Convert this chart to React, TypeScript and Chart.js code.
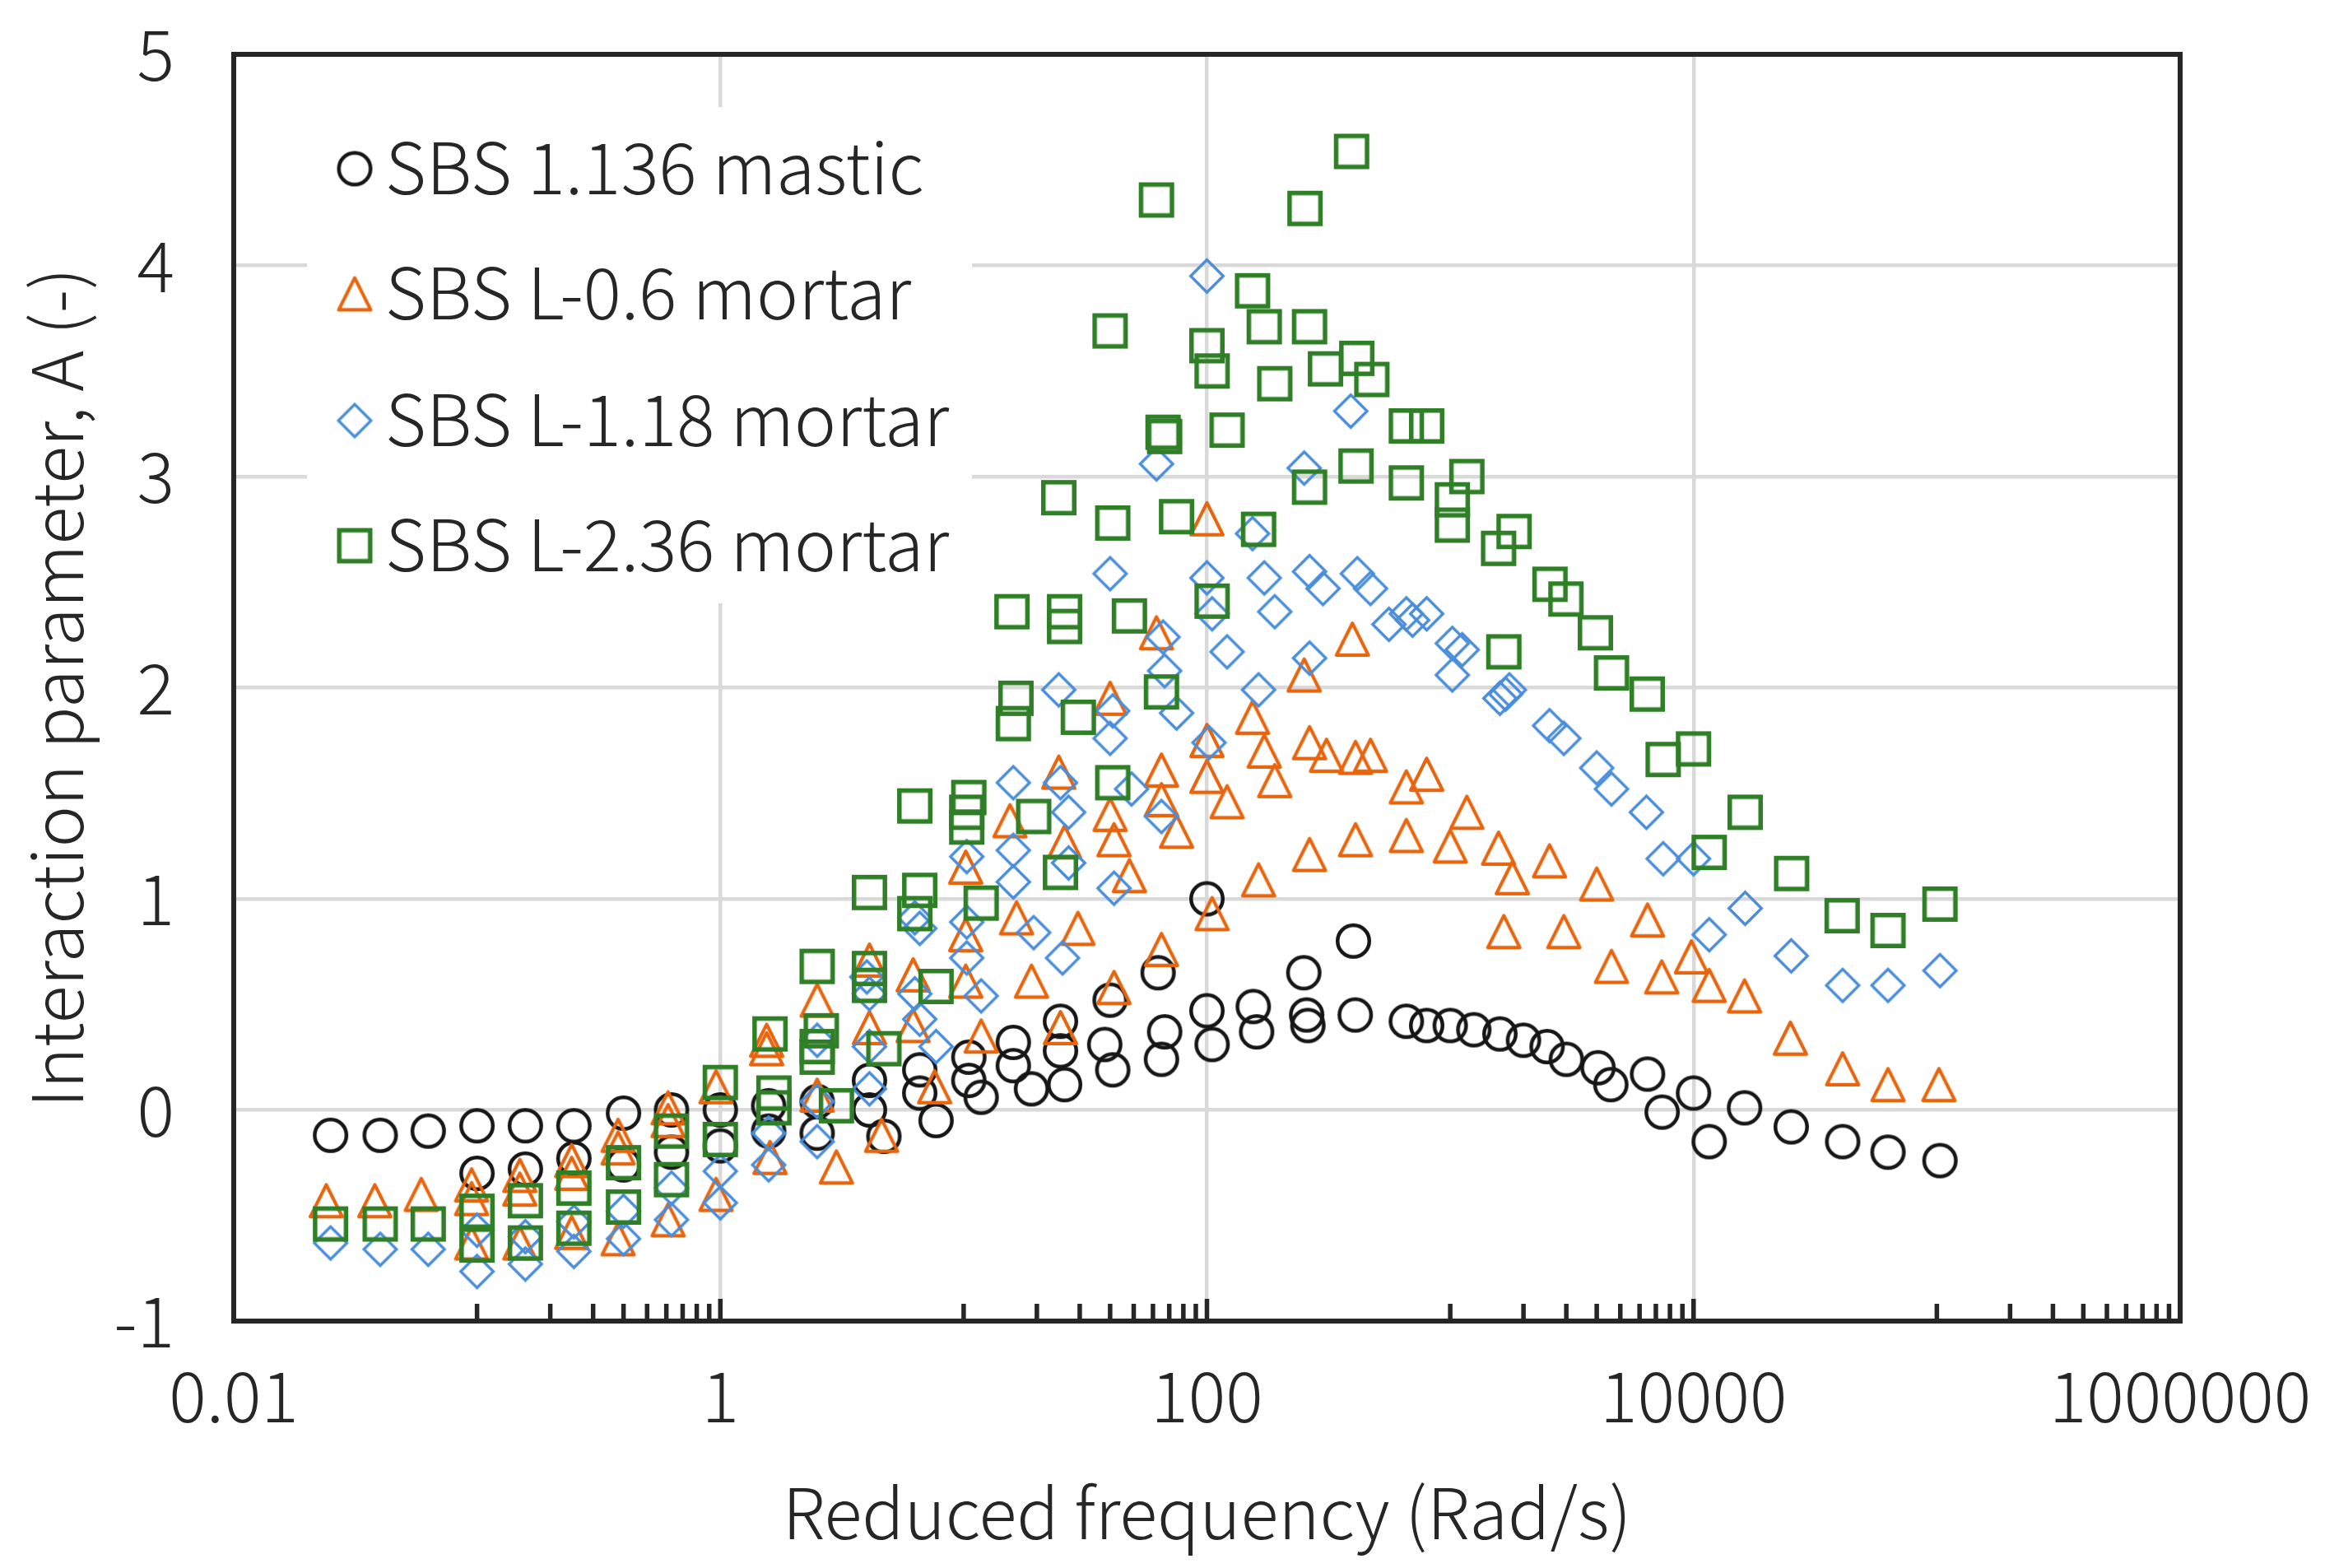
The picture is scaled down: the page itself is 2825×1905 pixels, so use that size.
import React, { useEffect, useRef } from 'react';
import { Chart, registerables } from 'chart.js';

Chart.register(...registerables);

// ---------- data ----------
const masticFreq = [
  0.025, 0.04, 0.063, 0.1, 0.158, 0.25, 0.4, 0.63, 1.0,
  0.1, 0.158, 0.25, 0.4, 0.63, 1.0, 1.58, 2.5, 4.7, 7.7, 11.8, 19, 26, 41, 65, 105, 160, 260,
  1.58, 2.5, 4.1, 6.6, 10.5, 16, 25, 38, 67, 100, 155, 257, 407, 660, 1000, 1600, 2500, 4050, 6470,
  10000, 16200, 25200, 41000, 63000, 103000,
  4.1, 6.6, 10.5, 16, 25, 40, 63, 100, 250, 400,
  800, 1250, 2000, 3000, 4570, 7430, 11600,
];
const masticA = [
  -0.12, -0.12, -0.10, -0.075, -0.075, -0.075, -0.015, 0.0, 0.0,
  -0.30, -0.28, -0.23, -0.26, -0.20, -0.17, -0.10, -0.11, -0.125, -0.05, 0.06, 0.10, 0.12, 0.19, 0.24, 0.31, 0.37, 0.40,
  0.02, 0.04, 0.0, 0.08, 0.14, 0.21, 0.28, 0.31, 0.37, 0.47, 0.49, 0.45, 0.45, 0.42, 0.40, 0.36, 0.30, 0.20, 0.17,
  0.08, 0.01, -0.08, -0.15, -0.20, -0.24,
  0.14, 0.19, 0.25, 0.32, 0.42, 0.52, 0.65, 1.0, 0.65, 0.80,
  0.40, 0.38, 0.33, 0.24, 0.12, -0.01, -0.15,
];

const mortar06Freq = [
  0.024, 0.038, 0.059, 0.095, 0.095, 0.095, 0.15, 0.15, 0.15, 0.245, 0.245, 0.245,
  0.38, 0.38, 0.38, 0.61, 0.61, 0.61, 0.96, 0.96, 1.55, 1.55, 1.6, 2.5, 2.5, 3.0,
  4.1, 4.1, 4.6, 6.2, 6.2, 7.6, 10.2, 10.2, 10.2, 11.8, 15.5, 16.5, 19, 24.6, 26, 25, 29.5,
  40, 40, 41.5, 41.5, 48, 62, 65, 65, 65, 75, 100, 100, 100, 105, 121, 154, 172, 190, 163,
  251, 264, 264, 310, 396, 408, 470, 408, 660, 660, 800, 1000, 1170, 1580, 1660, 1800,
  2560, 2930, 4000, 4600, 6470, 7400, 9800, 11600, 16200, 25000, 41000, 63000, 102000,
];
const mortar06A = [
  -0.43, -0.43, -0.40, -0.355, -0.42, -0.63, -0.31, -0.375, -0.63, -0.24, -0.30, -0.58,
  -0.12, -0.18, -0.61, 0.01, -0.05, -0.52, 0.11, -0.40, 0.33, 0.29, -0.225, 0.52, 0.07, -0.27,
  0.71, 0.39, -0.12, 0.64, 0.40, 0.11, 1.15, 0.83, 0.61, 0.35, 1.37, 0.91, 0.61, 1.60, 1.27, 0.39, 0.86,
  1.95, 1.40, 1.28, 0.58, 1.11, 2.26, 1.61, 1.47, 0.76, 1.32, 2.80, 1.75, 1.58, 0.93, 1.46, 1.86, 1.70, 1.56, 1.09,
  2.06, 1.74, 1.21, 1.68, 2.23, 1.67, 1.68, 1.28, 1.53, 1.30, 1.59, 1.25, 1.41, 1.24, 0.845, 1.10,
  1.18, 0.845, 1.07, 0.68, 0.90, 0.63, 0.725, 0.59, 0.54, 0.34, 0.195, 0.12, 0.12,
];

const mortar118Freq = [
  0.025, 0.04, 0.063, 0.1, 0.1, 0.158, 0.158, 0.25, 0.25, 0.4, 0.4, 0.63, 0.63, 1.0, 1.0,
  1.58, 1.58, 2.5, 2.5, 2.5, 4.1, 4.1, 4.1, 4, 6.6, 6.6, 6.3, 7.7, 6.3, 10.3, 10.3, 10.3, 11.8, 16, 16, 16, 19.4,
  24.6, 25, 25.5, 27, 27, 40, 40, 41, 41.5, 49, 62, 65, 66, 67, 75, 100, 100, 102, 105, 121,
  154, 163, 172, 190, 251, 264, 264, 300, 390, 415, 470, 560, 660, 700, 800, 1020, 1120, 1020,
  1600, 1690, 1750, 2560, 2930, 4000, 4600, 6400, 7500, 10000, 11600, 16300, 25200, 41000, 63000, 103000,
];
const mortar118A = [
  -0.63, -0.66, -0.66, -0.765, -0.57, -0.73, -0.60, -0.67, -0.53, -0.61, -0.48, -0.52, -0.37, -0.44, -0.29,
  -0.26, -0.11, -0.15, 0.04, 0.33, 0.30, 0.10, 0.55, 0.63, 0.43, 0.86, 0.55, 0.30, 0.91, 1.20, 0.89, 0.72, 0.54, 1.55, 1.23, 1.08, 0.84,
  1.99, 1.55, 0.72, 1.41, 1.17, 1.76, 2.54, 1.89, 1.05, 1.52, 3.06, 1.39, 2.24, 2.08, 1.88, 3.95, 2.52, 1.74, 2.35, 2.17,
  2.73, 1.99, 2.52, 2.36, 3.04, 2.55, 2.14, 2.47, 3.31, 2.54, 2.47, 2.30, 2.35, 2.32, 2.35, 2.21, 2.18, 2.06,
  1.95, 1.97, 1.99, 1.82, 1.76, 1.62, 1.52, 1.41, 1.19, 1.19, 0.83, 0.955, 0.73, 0.59, 0.59, 0.66,
];

const mortar236Freq = [
  0.025, 0.04, 0.063, 0.1, 0.1, 0.158, 0.158, 0.25, 0.25, 0.4, 0.4, 0.63, 0.63, 1.0, 1.0,
  1.6, 1.66, 1.66, 2.5, 2.6, 2.5, 2.5, 3.0, 4.1, 4.1, 4.1, 4.7, 6.3, 6.6, 6.3, 7.7, 10.5, 10.3, 10.3, 11.8,
  16.4, 16, 15.8, 19.4, 24.6, 25, 26, 26, 29.6, 40, 41, 41, 48, 62, 65, 66, 67, 75,
  100, 105, 105, 121, 154, 163, 172, 190, 253, 264, 264, 307, 393, 410, 413, 476, 660, 660, 800,
  1020, 1020, 1170, 1580, 1660, 1830, 2570, 2990, 3950, 4600, 6450, 7500, 10000, 11600, 16300,
  25300, 40800, 63000, 103000,
];
const mortar236A = [
  -0.54, -0.54, -0.54, -0.48, -0.64, -0.43, -0.63, -0.37, -0.56, -0.25, -0.46, -0.10, -0.33, 0.13, -0.14,
  0.36, 0.08, 0.01, 0.68, 0.375, 0.30, 0.25, 0.02, 1.03, 0.67, 0.59, 0.29, 1.44, 1.04, 0.93, 0.585, 1.48, 1.41, 1.34, 0.98,
  1.95, 1.83, 2.36, 1.39, 2.90, 1.125, 2.36, 2.29, 1.86, 3.69, 2.78, 1.55, 2.34, 4.31, 1.98, 3.21, 3.19, 2.81,
  3.62, 3.50, 2.41, 3.22, 3.88, 2.75, 3.71, 3.44, 4.27, 3.71, 2.95, 3.51, 4.54, 3.05, 3.56, 3.46, 3.24, 2.97, 3.24,
  2.89, 2.77, 3.0, 2.66, 2.17, 2.74, 2.49, 2.42, 2.26, 2.07, 1.97, 1.66, 1.71, 1.22, 1.41,
  1.12, 0.92, 0.85, 0.975,
];

const seriesLabels = ['SBS 1.136 mastic', 'SBS L-0.6 mortar', 'SBS L-1.18 mortar', 'SBS L-2.36 mortar'];
const xMajorTicks = [0.01, 1, 100, 10000, 1000000];
const xMinorDecades = [0.1, 10, 1000, 100000];
const yMin = -1;
const yMax = 5;
const xTitle = 'Reduced frequency (Rad/s)';
const yTitle = 'Interaction parameter, A (-)';

// ---------- styles ----------
const W = 2825;
const H = 1905;
const FONT_FAMILY = '"Noto Sans CJK SC", "Noto Sans", sans-serif';
const FONT_WEIGHT = 300;
const FONT_SIZE = 85;
const LEGEND_FONT_SIZE = 86;
const TEXT_COLOR = '#262626';
const GRID_COLOR = '#d9d9d9';
const AXIS_COLOR = '#262626';
const COLORS = ['#161616', '#e8650e', '#4a8edb', '#2f7f27'];
const SHAPES = ['circle', 'triangle', 'diamond', 'square'];
const LINE_W = [4.5, 4.2, 3.4, 5.5];

function makeMarker(shape: string, color: string, lw: number): HTMLCanvasElement {
  const S = 43;
  const pad = 3;
  const c = document.createElement('canvas');
  c.width = S + pad * 2;
  c.height = S + pad * 2;
  const g = c.getContext('2d')!;
  g.strokeStyle = color;
  g.lineWidth = lw;
  g.lineJoin = shape === 'triangle' ? 'round' : 'miter';
  const cx = c.width / 2;
  const cy = c.height / 2;
  const h = S / 2 - lw / 2;
  g.beginPath();
  if (shape === 'circle') {
    g.arc(cx, cy, h, 0, Math.PI * 2);
  } else if (shape === 'square') {
    g.rect(cx - h, cy - h, 2 * h, 2 * h);
  } else if (shape === 'diamond') {
    g.moveTo(cx, cy - h);
    g.lineTo(cx + h, cy);
    g.lineTo(cx, cy + h);
    g.lineTo(cx - h, cy);
    g.closePath();
  } else {
    g.moveTo(cx, cy - h);
    g.lineTo(cx + h, cy + h);
    g.lineTo(cx - h, cy + h);
    g.closePath();
  }
  g.stroke();
  return c;
}

export default function App() {
  const ref = useRef<HTMLCanvasElement>(null);

  useEffect(() => {
    document.body.style.margin = '0';
    document.body.style.overflow = 'hidden';
    const canvas = ref.current;
    if (!canvas) return;

    const markers = SHAPES.map((s, i) => makeMarker(s, COLORS[i], LINE_W[i]));
    const freqs = [masticFreq, mortar06Freq, mortar118Freq, mortar236Freq];
    const vals = [masticA, mortar06A, mortar118A, mortar236A];

    const datasets = seriesLabels.map((label, i) => ({
      label,
      data: freqs[i].map((f, j) => ({ x: f, y: vals[i][j] })),
      pointStyle: markers[i] as any,
      pointRadius: 20,
      showLine: false,
      order: 4 - i,
    }));

    const minorTicks: number[] = [];
    xMinorDecades.forEach((d) => {
      for (let n = 1; n <= 9; n++) minorTicks.push(n * d);
    });

    const decor = {
      id: 'decor',
      beforeDatasetsDraw(chart: any) {
        const ctx = chart.ctx as CanvasRenderingContext2D;
        ctx.save();
        // legend box (white, no border) inside the plot
        ctx.fillStyle = '#ffffff';
        ctx.fillRect(373, 130, 808, 603);
        const rows = [203, 355, 509, 661];
        ctx.font = `${FONT_WEIGHT} ${LEGEND_FONT_SIZE}px ${FONT_FAMILY}`;
        ctx.fillStyle = TEXT_COLOR;
        ctx.textBaseline = 'middle';
        ctx.textAlign = 'left';
        seriesLabels.forEach((lab, i) => {
          const m = markers[i];
          ctx.drawImage(m, 431 - m.width / 2, rows[i] + 2 - m.height / 2);
          ctx.fillText(lab, 468, rows[i]);
        });
        ctx.restore();
      },
      afterDatasetsDraw(chart: any) {
        const ctx = chart.ctx as CanvasRenderingContext2D;
        const { left, right, top, bottom } = chart.chartArea;
        const xs = chart.scales.x;
        ctx.save();
        ctx.strokeStyle = AXIS_COLOR;
        ctx.lineWidth = 5.5;
        ctx.beginPath();
        minorTicks.forEach((v) => {
          const px = xs.getPixelForValue(v);
          ctx.moveTo(px, bottom);
          ctx.lineTo(px, bottom - 21);
        });
        xMajorTicks.forEach((v) => {
          const px = xs.getPixelForValue(v);
          ctx.moveTo(px, bottom);
          ctx.lineTo(px, bottom - 27);
        });
        ctx.stroke();
        ctx.lineWidth = 6;
        ctx.strokeRect(left, top, right - left, bottom - top);
        ctx.restore();
      },
    };

    const font = { family: FONT_FAMILY, size: FONT_SIZE, weight: FONT_WEIGHT as any };

    const chart = new Chart(canvas, {
      type: 'scatter',
      data: { datasets: datasets as any },
      options: {
        animation: false,
        responsive: false,
        events: [],
        layout: { padding: { top: 66, right: 176, bottom: 0, left: 0 } },
        plugins: {
          legend: { display: false },
          tooltip: { enabled: false },
        },
        scales: {
          x: {
            type: 'logarithmic',
            min: 0.01,
            max: 1000000,
            afterBuildTicks: (s: any) => {
              s.ticks = xMajorTicks.map((v) => ({ value: v }));
            },
            afterFit: (s: any) => {
              s.height = 300;
              s.paddingLeft = 0;
              s.paddingRight = 0;
              s.paddingTop = 0;
              s.paddingBottom = 0;
            },
            ticks: {
              autoSkip: false,
              maxRotation: 0,
              padding: 40,
              color: TEXT_COLOR,
              font,
              callback: (v: any) => String(v),
            },
            grid: { color: GRID_COLOR, lineWidth: 4.5, drawTicks: false },
            border: { display: false },
            title: {
              display: true,
              text: xTitle,
              color: TEXT_COLOR,
              font,
              padding: { top: 0, bottom: 16 },
            },
          },
          y: {
            type: 'linear',
            min: yMin,
            max: yMax,
            afterFit: (s: any) => {
              s.width = 284;
              s.paddingLeft = 0;
              s.paddingRight = 0;
              s.paddingTop = 0;
              s.paddingBottom = 0;
            },
            ticks: {
              stepSize: 1,
              padding: 72,
              color: TEXT_COLOR,
              font,
              callback: (v: any) => String(v),
            },
            grid: { color: GRID_COLOR, lineWidth: 4.5, drawTicks: false },
            border: { display: false },
            title: {
              display: true,
              text: yTitle,
              color: TEXT_COLOR,
              font,
              padding: { top: 18, bottom: 0 },
            },
          },
        },
      },
      plugins: [decor],
    });

    return () => chart.destroy();
  }, []);

  return (
    <div style={{ width: W, height: H, background: '#ffffff', overflow: 'hidden' }}>
      <canvas ref={ref} width={W} height={H} style={{ display: 'block', width: W, height: H }} />
    </div>
  );
}
